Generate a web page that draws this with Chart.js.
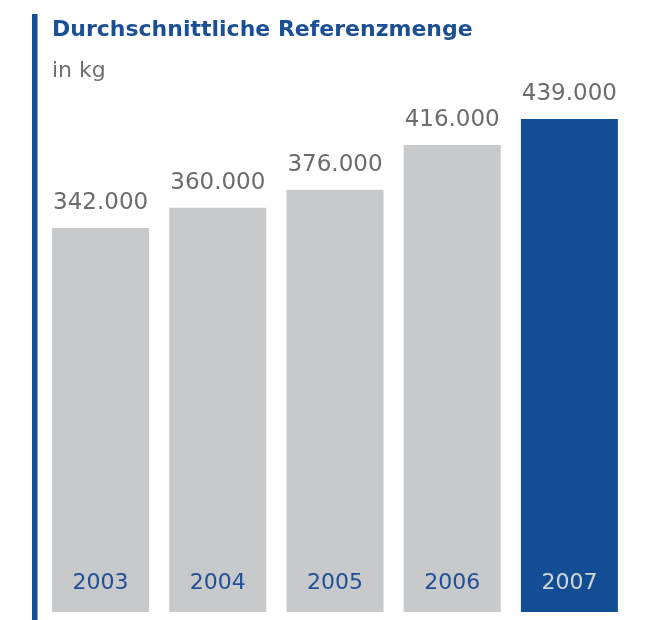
<!DOCTYPE html>
<html>
<head>
<meta charset="utf-8">
<script src="https://cdn.jsdelivr.net/npm/chart.js@4/dist/chart.umd.min.js"></script>
<style>
  html, body { margin: 0; padding: 0; background: #ffffff; }
  #wrap { position: relative; width: 646px; height: 620px; }
  canvas { display: block; }
</style>
</head>
<body>
<div id="wrap"><canvas id="c" width="646" height="620"></canvas></div>
<script>
const titleText = "Durchschnittliche Referenzmenge";
const unitText = "in kg";
const years = ["2003", "2004", "2005", "2006", "2007"];
const values = [342, 360, 376, 416, 439];
const valueLabels = ["342.000", "360.000", "376.000", "416.000", "439.000"];
const highlightIndex = 4;

const GREY = "#c8c9cb";
const BLUE = "#134d93";

const decorPlugin = {
  id: "decor",
  beforeDraw(chart) {
    const ctx = chart.ctx;
    ctx.save();
    ctx.fillStyle = BLUE;
    ctx.fillRect(32, 14, 5.5, 606);
    ctx.textBaseline = "alphabetic";
    ctx.textAlign = "left";
    ctx.fillStyle = "#1b4f93";
    ctx.font = "bold 22px 'DejaVu Sans'";
    ctx.fillText(titleText, 52, 36);
    ctx.fillStyle = "#6f6f6f";
    ctx.font = "22px 'DejaVu Sans'";
    ctx.fillText(unitText, 52, 77);
    ctx.restore();
  },
  afterDatasetsDraw(chart) {
    const ctx = chart.ctx;
    const meta = chart.getDatasetMeta(0);
    ctx.save();
    ctx.textAlign = "center";
    ctx.textBaseline = "alphabetic";
    meta.data.forEach((bar, i) => {
      ctx.fillStyle = "#6b6b6b";
      ctx.font = "23px 'DejaVu Sans'";
      ctx.fillText(valueLabels[i], bar.x, bar.y - 19);
      ctx.fillStyle = i === highlightIndex ? "#d3d4d6" : "#1f4f96";
      ctx.font = "22px 'DejaVu Sans'";
      ctx.fillText(years[i], bar.x, bar.base - 23);
    });
    ctx.restore();
  }
};

new Chart(document.getElementById("c"), {
  type: "bar",
  data: {
    labels: years,
    datasets: [{
      data: values,
      backgroundColor: values.map((v, i) => i === highlightIndex ? BLUE : GREY),
      borderWidth: 0,
      categoryPercentage: 1.0,
      barPercentage: 0.828
    }]
  },
  options: {
    responsive: false,
    animation: false,
    devicePixelRatio: 1,
    layout: { padding: { left: 42, right: 18, top: 100, bottom: 8 } },
    scales: {
      x: { display: false },
      y: { display: false, min: 0, max: 456 }
    },
    plugins: {
      legend: { display: false },
      tooltip: { enabled: false },
      title: { display: false }
    }
  },
  plugins: [decorPlugin]
});
</script>
</body>
</html>
